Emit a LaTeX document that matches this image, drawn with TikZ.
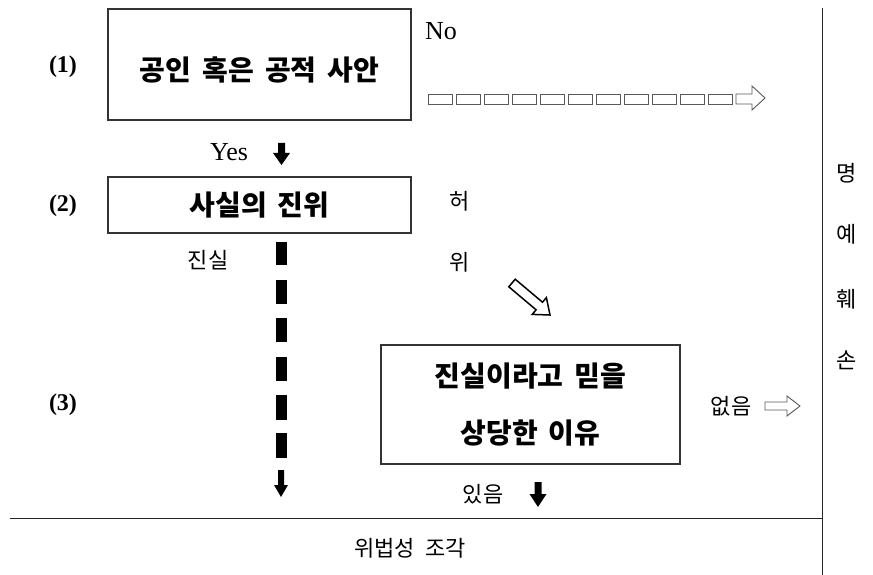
\documentclass[tikz,border=0pt]{standalone}
\usepackage{fontspec}
\setmainfont{Liberation Serif}
\newfontfamily\kr{Noto Sans CJK KR}
\begin{document}
\begin{tikzpicture}[x=1pt,y=-1pt,
  box/.style={draw=black!80, line width=1.1pt, inner sep=0pt},
  boxtxt/.style={font=\kr\bfseries\fontsize{28}{30}\selectfont},
  lbl/.style={font=\kr\fontsize{22}{24}\selectfont, inner sep=0pt},
  num/.style={font=\bfseries\fontsize{24}{26}\selectfont, inner sep=0pt},
  serif/.style={font=\fontsize{26}{28}\selectfont, inner sep=0pt},
  hollow/.style={draw=black!65, line width=0.9pt, fill=white},
  blk/.style={fill=black},
  rule/.style={draw=black!85, line width=1pt}]
\useasboundingbox (0,0) rectangle (873,575);

% boxes
\node[box, minimum width=303pt, minimum height=111pt] (b1) at (259.5,64.5) {};
\node[boxtxt, inner sep=0pt] (t1) at (259.5,70)
  {공인\hspace{0.4em}혹은\hspace{0.4em}공적\hspace{0.4em}사안};
\node[box, minimum width=303pt, minimum height=56pt, boxtxt] (b2) at (259.5,205)
  {사실의\hspace{0.4em}진위};
\node[box, minimum width=299pt, minimum height=119pt, align=center,
  font=\kr\bfseries\fontsize{28}{57}\selectfont] (b3) at (530.5,404.5)
  {진실이라고\hspace{0.4em}믿을\\상당한\hspace{0.4em}이유};

% step numbers
\node[num] (n1) at (63,67) {(1)};
\node[num] (n2) at (63,206) {(2)};
\node[num] (n3) at (63,405) {(3)};

% labels
\node[serif] (no) at (441,31) {No};
\node[serif] (yes) at (229,152) {Yes};
\node[lbl] (heo) at (460,201) {허};
\node[lbl] (wi) at (460,262) {위};
\node[lbl] (jinsil) at (208,260) {진실};
\node[lbl] (eopseum) at (731,406) {없음};
\node[lbl] (isseum) at (483,494) {있음};
\node[lbl] (result) at (410,548) {위법성\hspace{0.45em}조각};
\node[lbl] (m1) at (847,173) {명};
\node[lbl] (m2) at (847,234) {예};
\node[lbl] (m3) at (847,299) {훼};
\node[lbl] (m4) at (847,360) {손};

% frame lines
\coordinate (hl) at (10,518);
\coordinate (hr) at (822,518);
\coordinate (vt) at (822,8);
\coordinate (vb) at (822,575);
\draw[rule] (hl) -- (hr);
\draw[rule] (vt) -- (vb);

% No: dashed hollow arrow
\foreach \k in {0,...,10} {
  \draw[hollow] ({428+28*\k},94) rectangle ({452+28*\k},104);
}
\draw[hollow] (736,94) -- (752,94) -- (752,86) -- (765,98) -- (752,110) -- (752,104) -- (736,104) -- cycle;

% Yes: black arrow
\fill[blk] (278,143) -- (285,143) -- (285,153) -- (290,153) -- (281.5,165) -- (273,153) -- (278,153) -- cycle;

% true: thick dashed line with arrow
\foreach \a/\b in {242/265,280/304,318/342,357/381,395/420,433/458} {
  \fill[blk] (275.5,\a) rectangle (286.5,\b);
}
\fill[blk] (278,470) -- (284,470) -- (284,485) -- (288,485) -- (281,497) -- (274,485) -- (278,485) -- cycle;

% false: diagonal hollow arrow
\draw[hollow, line width=1.5pt, draw=black] (515.2,279.2) -- (542.5,302.2) -- (546.4,297.6) -- (550,315) -- (532.2,314.4) -- (536.1,309.8) -- (508.8,286.8) -- cycle;

% 없음 hollow arrow
\draw[hollow] (765,402) -- (787,402) -- (787,396) -- (800,406) -- (787,416) -- (787,410) -- (765,410) -- cycle;

% 있음 black arrow
\fill[blk] (534.5,482) -- (541.5,482) -- (541.5,494) -- (546.5,494) -- (538,507) -- (529.5,494) -- (534.5,494) -- cycle;
\end{tikzpicture}
\end{document}
